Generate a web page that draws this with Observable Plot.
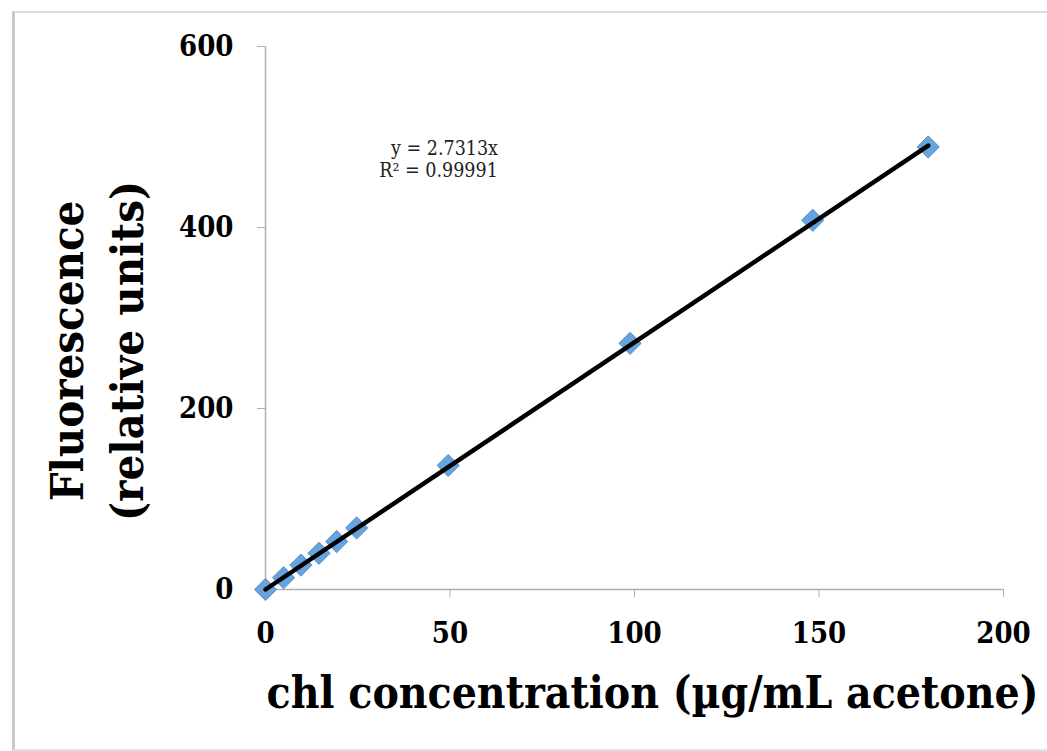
<!DOCTYPE html>
<html><head><meta charset="utf-8">
<script src="https://cdn.jsdelivr.net/npm/d3@7"></script>
<script src="https://cdn.jsdelivr.net/npm/@observablehq/plot@0.6"></script>
<style>
html,body{margin:0;padding:0;background:#fff;overflow:hidden;width:1047px;height:751px}
#chart{position:absolute;left:0;top:0;width:1047px;height:751px;overflow:hidden}
#frame{position:absolute;left:12px;top:11px;width:1032px;height:736px;border-top:2px solid #dcdcdc;border-left:3px solid #c9c9c9;border-bottom:2px solid #e4e4e4;pointer-events:none}
</style></head><body><div id="chart"></div><div id="frame"></div>
<script>
const concentration = [0, 4.9, 9.6, 14.5, 19.3, 24.7, 49.5, 98.8, 148.3, 179.6];
const fluorescence = [0, 13, 27, 40, 53, 68, 137, 272, 408, 489];
const slope = 2.7313;
const rSquared = "0.99991";
const xTicks = [0, 50, 100, 150, 200];
const yTicks = [0, 200, 400, 600];
const xTitle = "chl concentration (µg/mL acetone)";
const yTitle = ["Fluorescence", "(relative units)"];

const points = concentration.map((c, i) => ({x: c, y: fluorescence[i]}));
const trend = [0, d3.max(concentration)].map(x => ({x, y: slope * x}));
const font = "'DejaVu Serif Condensed', 'DejaVu Serif', serif";

const chart = Plot.plot({
  width: 1047, height: 751,
  marginLeft: 265, marginRight: 44, marginTop: 46, marginBottom: 162,
  style: {fontFamily: font, background: "transparent", color: "black", overflow: "hidden"},
  x: {domain: [0, 200]},
  y: {domain: [0, 600]},
  marks: [
    Plot.ruleY([0], {stroke: "#b0b0b0", strokeWidth: 1.5}),
    Plot.ruleX([0], {stroke: "#b0b0b0", strokeWidth: 1.5}),
    Plot.axisX({ticks: xTicks, tickSize: 8, tickPadding: 25, stroke: "#b0b0b0", fill: "black", fontSize: 29, fontWeight: "bold", label: null, tickFormat: d => String(d)}),
    Plot.axisY({ticks: yTicks, tickSize: 8, tickPadding: 24, stroke: "#b0b0b0", fill: "black", fontSize: 29, fontWeight: "bold", label: null, tickFormat: d => String(d)}),
    Plot.dot(points, {x: "x", y: "y", symbol: "diamond2", r: 10, fill: "#66a3df", stroke: "#5590cf", strokeWidth: 1}),
    Plot.line(trend, {x: "x", y: "y", stroke: "black", strokeWidth: 4.5}),
    Plot.text([`y = ${slope}x`], {text: d => d, frameAnchor: "top-left", dx: 179, dy: 102, fontSize: 19.5, textAnchor: "middle", lineAnchor: "middle", fill: "#222"}),
    Plot.text([`R² = ${rSquared}`], {text: d => d, frameAnchor: "top-left", dx: 173, dy: 124, fontSize: 19.5, textAnchor: "middle", lineAnchor: "middle", fill: "#222"}),
    Plot.text([xTitle], {text: d => d, frameAnchor: "bottom", dx: 18, dy: 118, fontSize: 44, fontWeight: "bold", textAnchor: "middle", lineAnchor: "bottom"}),
    Plot.text([yTitle.join("\n")], {text: d => d, frameAnchor: "left", dx: -172, dy: 33, rotate: -90, fontSize: 45, fontWeight: "bold", textAnchor: "middle", lineAnchor: "middle", lineHeight: 1.33})
  ]
});
document.getElementById("chart").appendChild(chart);
</script>
</body></html>
